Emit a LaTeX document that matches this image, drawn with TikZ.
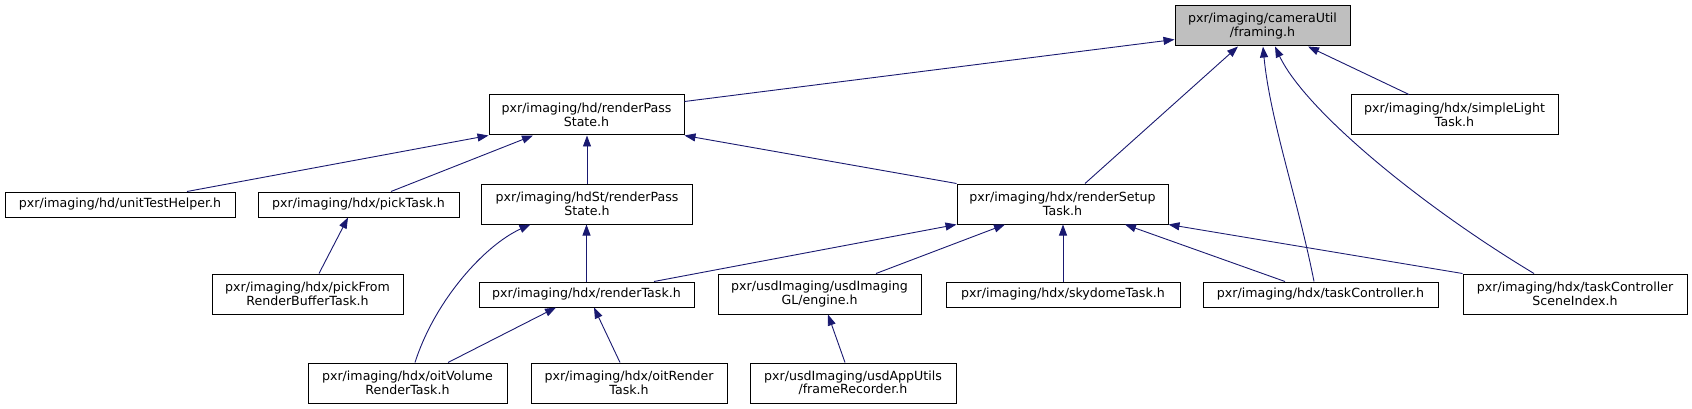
\documentclass[tikz,border=0pt]{standalone}
\usepackage{fontspec}
\setmainfont{DejaVu Sans}
\usetikzlibrary{arrows.meta}
\definecolor{edgeblue}{HTML}{191970}
\definecolor{rootgray}{HTML}{BFBFBF}
\tikzset{
  box/.style={draw=black, line width=1pt, fill=white, inner sep=0pt, align=center,
              font=\fontsize{12.6}{13.5}\selectfont},
  edge/.style={draw=edgeblue, line width=0.9pt, -{Triangle[length=11pt,width=8pt]}}
}
\begin{document}
\begin{tikzpicture}[x=1pt,y=-1pt]
\useasboundingbox (0,0) rectangle (1692,409);
% nodes
\node[box, fill=rootgray, minimum width=175pt, minimum height=40pt] (framing) at (1262.5,26) {pxr/imaging/cameraUtil\\/framing.h};
\node[box, minimum width=195pt, minimum height=40pt] (rp) at (586.5,115) {pxr/imaging/hd/renderPass\\State.h};
\node[box, minimum width=207pt, minimum height=40pt] (sl) at (1454.5,115) {pxr/imaging/hdx/simpleLight\\Task.h};
\node[box, minimum width=230pt, minimum height=25pt] (uth) at (120,204.5) {pxr/imaging/hd/unitTestHelper.h};
\node[box, minimum width=201pt, minimum height=25pt] (pt) at (358.5,204.5) {pxr/imaging/hdx/pickTask.h};
\node[box, minimum width=211pt, minimum height=40pt] (hs) at (587,204) {pxr/imaging/hdSt/renderPass\\State.h};
\node[box, minimum width=211pt, minimum height=40pt] (rs) at (1062.5,204) {pxr/imaging/hdx/renderSetup\\Task.h};
\node[box, minimum width=191pt, minimum height=40pt] (pf) at (307.5,294) {pxr/imaging/hdx/pickFrom\\RenderBufferTask.h};
\node[box, minimum width=215pt, minimum height=25pt] (rt) at (586.5,294.5) {pxr/imaging/hdx/renderTask.h};
\node[box, minimum width=203pt, minimum height=40pt] (en) at (819.5,294) {pxr/usdImaging/usdImaging\\GL/engine.h};
\node[box, minimum width=234pt, minimum height=25pt] (sd) at (1063,294.5) {pxr/imaging/hdx/skydomeTask.h};
\node[box, minimum width=235pt, minimum height=25pt] (tc) at (1320.5,294.5) {pxr/imaging/hdx/taskController.h};
\node[box, minimum width=224pt, minimum height=40pt] (si) at (1575,294) {pxr/imaging/hdx/taskController\\SceneIndex.h};
\node[box, minimum width=199pt, minimum height=40pt] (ov) at (407.5,383) {pxr/imaging/hdx/oitVolume\\RenderTask.h};
\node[box, minimum width=196pt, minimum height=40pt] (orr) at (629,383) {pxr/imaging/hdx/oitRender\\Task.h};
\node[box, minimum width=206pt, minimum height=40pt] (fr) at (853,383) {pxr/usdImaging/usdAppUtils\\/frameRecorder.h};
% edges to framing
\draw[edge] ([yshift=-7pt]rp.north east) -- ([yshift=7pt]framing.south west);
\draw[edge] ([xshift=22.5pt]rs.north) -- ([xshift=-24.5pt]framing.south);
\draw[edge] ([xshift=-6.5pt]tc.north) .. controls (1298,200) and (1270,120) .. ([xshift=0.5pt]framing.south);
\draw[edge] ([xshift=-41pt]si.north) .. controls (1420,205) and (1305,110) .. ([xshift=12.5pt]framing.south);
\draw[edge] ([xshift=-45.5pt]sl.north) -- ([xshift=45.5pt]framing.south);
% edges to hd renderPassState
\draw[edge] ([xshift=67pt]uth.north) -- (rp.south west);
\draw[edge] ([xshift=32.5pt]pt.north) -- ([xshift=-53.5pt]rp.south);
\draw[edge] (hs.north) -- (hs.north |- rp.south);
\draw[edge] (rs.north west) -- (rp.south east);
% pickTask
\draw[edge] ([xshift=11.5pt]pf.north) -- ([xshift=-10.5pt]pt.south);
% hdSt renderPassState
\draw[edge] (rt.north) -- (rt.north |- hs.south);
\draw[edge] ([xshift=7.5pt]ov.north) .. controls (435,300) and (485,245) .. ([xshift=-56.5pt]hs.south);
% renderSetupTask
\draw[edge] ([xshift=67.5pt]rt.north) -- (rs.south west);
\draw[edge] ([xshift=56.5pt]en.north) -- ([xshift=-57.5pt]rs.south);
\draw[edge] (sd.north) -- (sd.north |- rs.south);
\draw[edge] ([xshift=-35.5pt]tc.north) -- ([xshift=62.5pt]rs.south);
\draw[edge] (si.north west) -- (rs.south east);
% renderTask
\draw[edge] ([xshift=40.5pt]ov.north) -- ([xshift=-30.5pt]rt.south);
\draw[edge] ([xshift=-9pt]orr.north) -- ([xshift=7.5pt]rt.south);
% engine
\draw[edge] ([xshift=-8pt]fr.north) -- ([xshift=8.5pt]en.south);
\end{tikzpicture}
\end{document}
